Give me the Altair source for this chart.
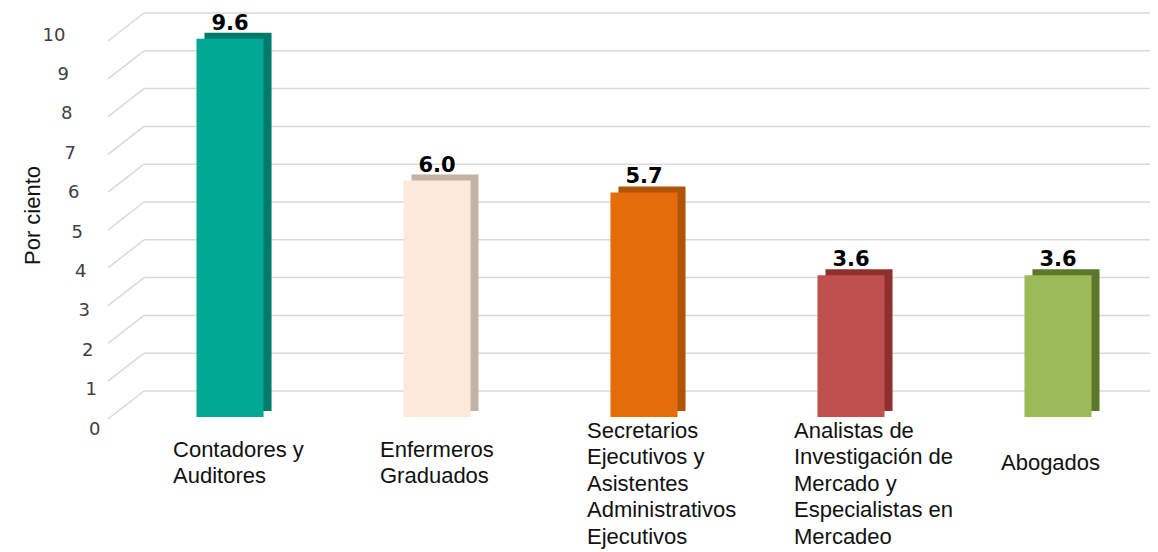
import altair as alt
import pandas as pd

categories = [
    "Contadores y\nAuditores",
    "Enfermeros\nGraduados",
    "Secretarios\nEjecutivos y\nAsistentes\nAdministrativos\nEjecutivos",
    "Analistas de\nInvestigación de\nMercado y\nEspecialistas en\nMercadeo",
    "Abogados",
]
values = [9.6, 6.0, 5.7, 3.6, 3.6]
front_colors = ["#00A994", "#FDE9D9", "#E46C0A", "#C0504D", "#9BBB59"]
side_colors = ["#007B6B", "#C2B3A6", "#B05408", "#8E302E", "#5C772A"]
y_ticks = [0, 1, 2, 3, 4, 5, 6, 7, 8, 9, 10]

W, H = 1012, 394

bars = pd.DataFrame({"cat": categories, "val": values})
ticks = pd.DataFrame({"v": y_ticks})

x_scale = alt.Scale(paddingInner=0.676, paddingOuter=0.2825)
grid_scale = alt.Scale(domain=[-0.6878, 9.7355], nice=False, zero=False)
val_scale = alt.Scale(domain=[0, 10], nice=False)


def x_axis(cond=True):
    kw = dict(
        title=None, domain=False, ticks=False, tickSize=0, grid=False,
        labelAngle=0, labelAlign="left", labelBaseline="top",
        labelOffset=-57, labelFont="Liberation Sans", labelFontSize=22,
        labelLineHeight=26.5, labelColor="#111111", labelLimit=0,
        labelOverlap=False, labelExpr="split(datum.label, '\\n')",
    )
    if cond:
        kw["labelPadding"] = {
            "condition": [
                {"test": "datum.value == 'Abogados'", "value": 35},
                {"test": "indexof(datum.value, 'Secretarios') == 0 || indexof(datum.value, 'Analistas') == 0", "value": 3},
            ],
            "value": 22,
        }
    else:
        kw["labelPadding"] = 20
    return alt.Axis(**kw)


def y_axis(cond=True):
    kw = dict(
        values=y_ticks, domain=False, ticks=False, tickSize=0, grid=False,
        labelFont="DejaVu Sans", labelFontSize=18, labelColor="#404040",
        labelAlign="right", labelBaseline="middle", labelOffset=12,
        title="Por ciento", titleFont="Liberation Sans", titleFontSize=22,
        titleFontWeight="normal", titleColor="#111111", titleAngle=-90,
        titleAlign="center", titleBaseline="middle", titleX=-106, titleY=192,
    )
    if cond:
        kw["labelPadding"] = {
            "condition": [
                {"test": f"datum.value == {v}", "value": 38 + 3.5 * v} for v in y_ticks
            ],
            "value": 55,
        }
    else:
        kw["labelPadding"] = 55
    return alt.Axis(**kw)


def build(cond):
    xa = x_axis(cond)
    grid = alt.Chart(ticks).mark_rule(color="#D9D9D9", strokeWidth=1.5).encode(
        y=alt.Y("v:Q", scale=grid_scale, axis=None),
        x=alt.value(6), x2=alt.value(W),
    )
    diag = alt.Chart(ticks).mark_rule(color="#D9D9D9", strokeWidth=1.5, yOffset=28, y2Offset=0).encode(
        y=alt.Y("v:Q", scale=grid_scale, axis=None),
        y2=alt.Y2("v"),
        x=alt.value(-30), x2=alt.value(6),
    )
    back = alt.Chart(bars).mark_bar(xOffset=8, yOffset=-6).encode(
        x=alt.X("cat:N", sort=None, scale=x_scale, axis=xa),
        y=alt.Y("val:Q", scale=val_scale, axis=None),
        color=alt.Color("cat:N", scale=alt.Scale(domain=categories, range=side_colors), legend=None),
    )
    front = alt.Chart(bars).mark_bar().encode(
        x=alt.X("cat:N", sort=None, scale=x_scale, axis=xa),
        y=alt.Y("val:Q", scale=val_scale, axis=y_axis(cond)),
        color=alt.Color("cat:N", scale=alt.Scale(domain=categories, range=front_colors), legend=None),
    )
    labels = alt.Chart(bars).mark_text(
        dy=-9, baseline="alphabetic", font="DejaVu Sans", fontWeight="bold",
        fontSize=21, color="#000000",
    ).encode(
        x=alt.X("cat:N", sort=None, scale=x_scale, axis=xa),
        y=alt.Y("val:Q", scale=val_scale, axis=None),
        text=alt.Text("val:Q", format=".1f"),
    )
    ch = alt.layer(grid, diag, back, front, labels).resolve_scale(
        y="independent", color="independent"
    ).properties(
        width=W, height=H,
        autosize=alt.AutoSizeParams(type="none"),
        padding={"left": 130, "top": 15, "right": 0, "bottom": 136},
        background="white",
    ).configure_view(stroke=None)
    return ch


try:
    chart = build(True)
    chart.to_dict()
except Exception:
    chart = build(False)

chart.save("out.html", embed_options={"renderer": "svg", "actions": False})
